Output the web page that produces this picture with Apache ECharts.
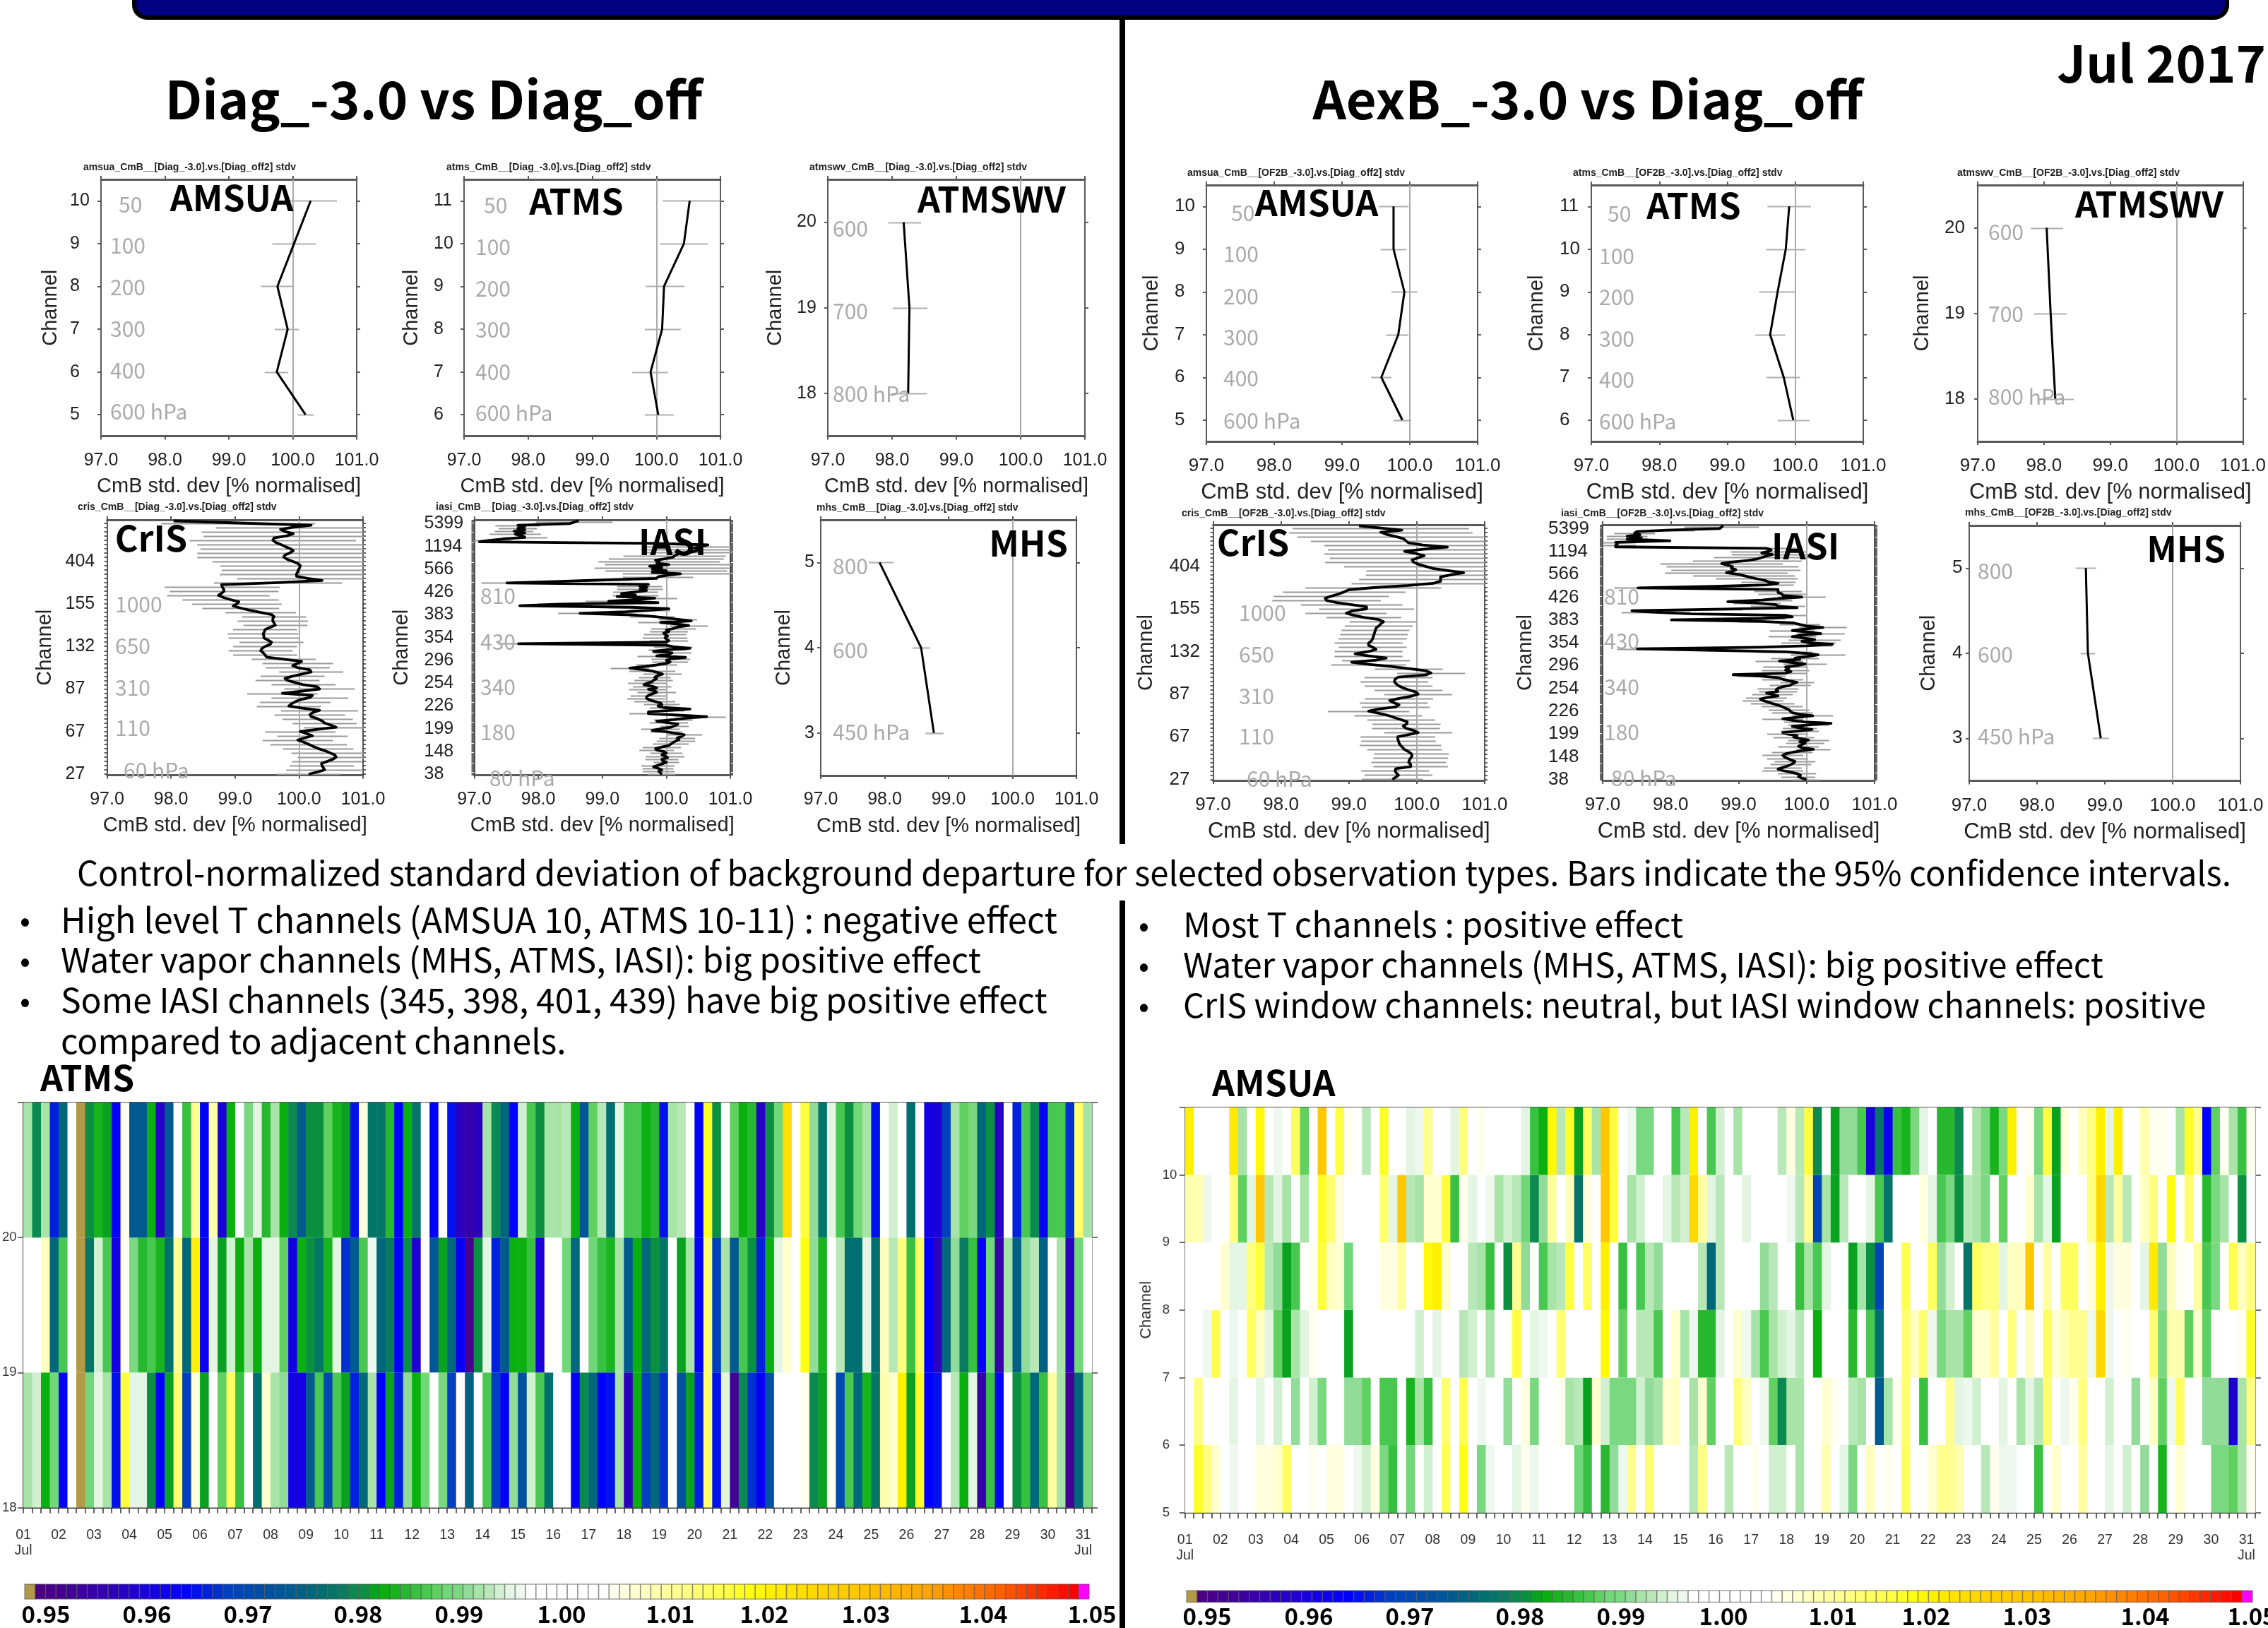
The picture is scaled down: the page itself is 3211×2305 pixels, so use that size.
<!DOCTYPE html>
<html><head><meta charset="utf-8">
<style>html,body{margin:0;padding:0;background:#fff}#c{width:3211px;height:2305px}</style>
<script src="https://cdn.jsdelivr.net/npm/echarts@6/dist/echarts.min.js"></script>
</head><body><div id="c"></div>
<script>
// ---------- profile panel data ----------
const xTicks = [97, 98, 99, 100, 101];
const chAmsua = ['5','6','7','8','9','10'];
const chAtms = ['6','7','8','9','10','11'];
const chWv = ['18','19','20'];
const chMhs = ['3','4','5'];
const crisLabels = ['27','67','87','132','155','404'];
const iasiLabels = ['38','148','199','226','254','296','354','383','426','566','1194','5399'];

const amsuaL = [100.20,99.75,99.92,99.76,100.02,100.28];
const amsuaLlo = [100.08,99.56,99.72,99.50,99.68,99.88];
const amsuaLhi = [100.33,99.93,100.10,100.02,100.36,100.69];
const atmsL = [100.03,99.91,100.09,100.12,100.43,100.52];
const atmsLlo = [99.82,99.62,99.82,99.83,100.06,100.10];
const atmsLhi = [100.27,100.18,100.38,100.44,100.81,101.03];
const wvL = [98.25,98.27,98.18];
const wvLlo = [97.99,98.01,97.94];
const wvLhi = [98.54,98.55,98.45];
const mhsL = [98.77,98.57,97.92];
const mhsLlo = [98.64,98.44,97.75];
const mhsLhi = [98.92,98.71,98.14];
const amsuaR = [99.89,99.58,99.83,99.92,99.76,99.76];
const amsuaRlo = [99.76,99.43,99.65,99.73,99.57,99.54];
const amsuaRhi = [100.02,99.73,99.98,100.11,99.95,99.98];
const atmsR = [99.97,99.83,99.63,99.74,99.86,99.91];
const atmsRlo = [99.74,99.58,99.41,99.47,99.57,99.59];
const atmsRhi = [100.21,100.07,99.85,100.01,100.15,100.23];
const wvR = [98.17,98.10,98.04];
const wvRlo = [97.92,97.85,97.80];
const wvRhi = [98.45,98.34,98.29];
const mhsR = [98.94,98.75,98.72];
const mhsRlo = [98.82,98.64,98.57];
const mhsRhi = [99.06,98.86,98.87];

const crisL = [100.15,100.29,100.40,100.38,100.36,100.35,100.44,100.53,100.58,100.56,
100.48,100.40,100.30,100.22,100.15,100.07,99.98,100.09,100.21,100.12,
100.02,100.29,100.58,100.50,100.40,100.36,100.29,100.19,100.17,100.22,
100.32,100.05,99.84,99.88,99.94,100.02,100.17,100.21,99.74,100.05,
100.32,100.29,100.07,99.94,99.82,99.78,99.90,100.05,100.19,100.17,
99.98,99.90,99.98,100.04,99.76,99.49,99.47,99.44,99.40,99.42,
99.47,99.55,99.57,99.51,99.45,99.45,99.44,99.46,99.47,99.55,
99.63,99.61,99.59,99.59,99.61,99.57,99.40,99.24,99.09,98.97,
99.03,99.06,98.93,98.82,98.74,98.79,98.83,98.82,98.80,98.79,
99.67,100.36,100.13,99.96,99.96,99.98,99.99,100.01,100.02,99.98,
99.90,99.81,99.76,99.78,99.86,99.91,99.86,99.78,99.71,99.63,
99.59,99.61,99.81,99.91,99.78,99.71,99.90,100.19,99.05,98.04];
const crisLci = [.5,.5,.6,.55,.5,.45,.55,.6,.6,.55,
.6,.5,.55,.6,.6,.5,.55,.55,.55,.6,
.55,.5,.5,.55,.5,.55,.55,.6,.55,.5,
.6,.55,.5,.6,.55,.55,.6,.55,.55,.5,
.55,.55,.5,.55,.5,.55,.5,.5,.5,.45,
.5,.5,.55,.45,.5,.5,.5,.45,.5,.5,
.5,.55,.5,.5,.55,.5,.55,.5,.5,.45,
.5,.5,.55,.5,.5,.5,.55,.5,.6,.65,
.7,.7,.75,.75,.8,.8,.85,.9,.9,.95,
1.0,1.05,1.1,1.2,1.2,1.25,1.2,1.2,1.25,1.2,
1.25,1.3,1.35,1.4,1.45,1.45,1.4,1.35,1.3,1.3,
1.3,1.35,1.3,1.25,1.3,1.3,1.2,1.2,1.2,1.3];

const crisR = [99.64,99.69,99.73,99.70,99.68,99.69,99.91,99.91,99.88,99.89,
99.91,99.93,99.92,99.88,99.82,99.79,99.76,99.74,99.73,99.72,
99.72,99.88,100.02,99.95,99.84,99.80,99.85,99.86,99.77,99.67,
99.58,99.44,99.29,99.44,99.69,99.74,99.66,99.60,99.74,99.91,
100.02,99.99,99.88,99.79,99.73,99.69,99.67,99.68,99.73,100.13,
100.21,100.13,99.88,99.62,99.29,99.04,99.40,99.55,99.29,99.09,
99.29,99.40,99.35,99.29,99.29,99.33,99.35,99.36,99.37,99.38,
99.39,99.40,99.44,99.47,99.51,99.44,99.22,99.07,98.96,99.04,
99.26,99.26,99.04,98.82,98.67,98.65,98.74,98.85,98.93,99.00,
99.36,99.88,100.24,100.35,100.35,100.35,100.50,100.69,100.46,100.24,
100.13,100.02,99.95,99.93,100.02,100.11,99.99,99.82,100.09,100.45,
100.09,99.88,99.84,99.80,99.69,99.55,99.47,99.78,99.47,99.15];
const crisRci = [.45,.5,.5,.55,.5,.5,.55,.55,.55,.6,
.55,.6,.55,.6,.55,.55,.6,.6,.55,.6,
.55,.5,.5,.5,.5,.55,.5,.5,.5,.5,
.5,.5,.6,.55,.5,.5,.5,.45,.5,.5,
.5,.5,.5,.5,.5,.5,.5,.5,.5,.5,
.5,.55,.5,.5,.55,.5,.5,.5,.5,.5,
.5,.5,.5,.5,.5,.55,.5,.5,.5,.5,
.5,.55,.5,.5,.5,.5,.55,.6,.6,.65,
.7,.7,.75,.75,.8,.85,.85,.85,.9,.9,
1.0,1.1,1.2,1.2,1.2,1.25,1.25,1.25,1.2,1.2,
1.2,1.25,1.3,1.3,1.3,1.3,1.35,1.35,1.4,1.4,
1.45,1.4,1.4,1.4,1.45,1.4,1.35,1.3,1.3,1.3];

const iasiL = [99.93,99.91,99.88,99.93,99.87,99.80,99.87,99.94,100.0,99.94,
99.93,100.02,99.98,99.93,100.0,99.96,99.85,99.83,99.93,100.04,
100.07,100.11,100.15,100.20,100.17,100.24,100.28,100.15,100.0,99.78,
99.91,100.07,100.13,100.18,100.04,99.85,100.11,100.30,100.63,100.18,
99.72,99.72,100,100.37,99.96,99.87,99.93,99.91,99.82,99.74,
99.69,99.69,99.72,99.78,99.85,99.82,99.72,99.85,99.78,99.65,
99.70,99.78,99.80,99.85,99.82,99.87,99.94,99.87,99.78,99.61,
99.43,99.67,99.85,100,100.06,100,100.07,100.30,99.85,100.04,
100.09,99.80,100.02,100.37,100.11,100,97.69,100,100.04,100,
99.98,100.02,99.98,99.96,100.04,100,100.11,100.18,100.35,100.15,
99.91,100.39,100.18,100,99.78,99.45,98.65,99.37,99.74,100.04,
99.45,97.71,98.34,99.87,99.10,99.59,99.82,99.23,99.52,99.30,
99.52,99.69,99.59,99.70,99.58,99.72,97.51,98.34,99.08,99.85,
99.87,100,100.22,99.78,100,99.78,99.93,99.74,100.04,99.85,
99.89,99.83,100,100.11,100.13,100.18,100.37,100.46,100.52,100.44,
100.55,100.65,99.82,97.08,97.23,97.49,97.79,97.75,97.64,97.79,
97.62,97.79,97.68,97.79,97.68,98.49,98.56,98.63];
const iasiLci = [.22,.2,.25,.28,.24,.3,.26,.22,.2,.3,
.26,.22,.3,.28,.25,.3,.27,.24,.3,.26,
.28,.3,.3,.32,.28,.3,.28,.3,.25,.3,
.3,.3,.22,.32,.3,.28,.3,.27,.3,.3,
.3,.25,.28,.25,.22,.3,.28,.3,.32,.3,
.3,.32,.28,.35,.3,.3,.3,.32,.3,.28,
.3,.32,.3,.3,.25,.28,.3,.36,.36,.3,
.3,.3,.32,.3,.28,.3,.3,.35,.3,.28,
.3,.3,.3,.3,.3,.35,.32,.3,.3,.32,
.35,.3,.33,.3,.3,.32,.35,.32,.3,.35,
.35,.3,.3,.32,.35,.36,.34,.33,.32,.3,
.35,.4,.35,.3,.36,.4,.35,.38,.36,.35,
.35,.4,.36,.4,.35,.38,.4,.35,.35,.4,
.55,.65,.9,1.0,.95,1.0,1.05,1.0,1.0,1.05,
.95,1.0,.9,.85,.8,.75,.75,.8,.9,1.0,
.9,.8,.35,.3,.35,.3,.35,.3,.4,.35,
.3,.35,.3,.4,.35,.45,.6,.55];

const iasiR = [100,99.93,99.88,99.91,99.86,99.76,99.65,99.58,99.65,99.72,
99.77,99.81,99.83,99.77,99.72,99.67,99.65,99.69,99.79,99.93,
100.10,99.93,99.88,99.93,99.98,99.90,100.03,99.90,99.81,99.86,
99.72,99.65,99.90,100.08,99.90,99.79,100.03,100.36,99.97,99.79,
99.65,99.86,100.09,99.90,99.79,99.76,99.74,99.69,99.64,99.58,
99.50,99.43,99.36,99.32,99.41,99.58,99.50,99.41,99.58,99.55,
99.58,99.64,99.76,99.79,99.86,99.74,99.65,99.58,99.34,98.92,
99.69,99.77,99.69,99.74,99.69,99.86,99.98,99.79,99.60,99.90,
99.83,100.03,100.17,100,99.69,98.65,97.51,99.34,100,100.38,
100.03,99.93,100.12,99.97,99.79,99.93,100.21,100.03,99.79,99.97,
100.24,100,99.90,99.81,99.34,98.01,99.34,99.79,99.69,98.30,
97.78,97.43,98.65,99.86,99.58,99.55,99.27,98.84,99.34,99.58,
99.93,99.65,99.64,99.58,99.58,99.58,97.52,98.65,99.41,99.58,
99.44,99.38,99.27,99.17,99.08,98.99,98.82,98.91,98.96,98.89,
98.91,98.84,98.75,98.89,99.13,99.27,99.34,99.41,99.50,99.34,
99.44,99.48,99.41,97.19,97.19,97.22,97.19,97.99,97.36,97.57,
97.36,97.55,97.47,97.50,97.95,98.72,98.75,98.77];
const iasiRci = [.2,.22,.25,.25,.28,.24,.3,.3,.28,.26,
.3,.28,.3,.26,.3,.28,.3,.27,.3,.28,
.25,.28,.3,.3,.28,.32,.3,.27,.3,.28,
.3,.3,.28,.3,.25,.3,.3,.25,.3,.3,
.3,.32,.3,.28,.3,.32,.3,.35,.3,.3,
.32,.35,.3,.33,.3,.32,.3,.32,.28,.3,
.3,.3,.3,.3,.25,.28,.3,.32,.35,.37,
.32,.33,.35,.35,.33,.35,.32,.33,.35,.4,
.35,.37,.4,.38,.4,.35,.3,.35,.38,.4,
.4,.35,.38,.35,.35,.38,.35,.35,.33,.3,
.35,.3,.3,.3,.35,.4,.35,.3,.3,.35,
.5,.45,.4,.35,.4,.3,.35,.4,.45,.4,
.35,.4,.35,.4,.35,.35,.35,.4,.4,.4,
.4,.45,.6,.65,.75,.85,.9,.95,.95,.97,
.97,.95,.9,.85,.8,.75,.7,.65,.6,.55,
.55,.5,.5,.3,.3,.35,.3,.35,.3,.35,
.3,.35,.3,.35,.4,.55,.55,.6];

// ---------- heatmap data (ratio to control, one value per 6-hourly cycle) ----------
const dayLabels = ['01','02','03','04','05','06','07','08','09','10','11','12','13','14','15','16','17','18','19','20','21','22','23','24','25','26','27','28','29','30','31'];
const atmsHeat20 = [.992,.980,.992,.966,.976,1,.949,.981,.984,.982,
.964,1.005,.974,.974,.983,.958,.974,1,.986,1.011,
.964,1.009,.960,.983,1,.990,.995,.985,.992,.983,
.980,.974,.981,.981,.988,.984,.982,.965,1.006,.978,
.978,.985,.964,.983,.978,1,.964,1,.965,.957,
.955,.957,.992,.980,.976,.964,.994,.987,.981,.992,
.992,.993,.983,.973,.988,.993,.977,.995,.987,.987,
.983,.985,.965,.992,.993,1,.964,1.017,.981,1,
.988,.983,.985,.958,.981,.989,1.023,1,1.016,.991,
.978,.995,.987,.981,.989,.992,.965,1,.994,1,
.977,1,.961,.960,.968,.992,.988,.990,.976,.981,
.958,1,.966,.987,.980,.963,.987,.987,.967,1.013,.992];
const atmsHeat19 = [1,1,1.008,.976,.987,1,.949,.978,.994,.987,
.961,1.005,.990,.985,.987,.984,.977,1.011,.976,1.020,
.962,.995,.982,.994,.983,.992,.983,.995,.995,.988,
.961,.983,.981,.978,.984,.995,.967,.974,.987,.996,
.976,.979,.964,.981,.959,1,.973,.982,.976,.963,
.951,.981,.995,.966,.974,.983,.983,.986,.960,1,
1,.989,.976,1,.989,.986,.984,.992,.974,.983,
.976,.981,.978,1,.982,.992,.964,1.013,.968,.992,
.974,.987,.981,.966,.983,.995,1.007,1,1.018,.991,
.984,1,.993,.977,.977,.995,.977,1.008,.993,1.012,
.986,1.014,.964,.957,.976,.991,.979,.986,.963,.989,
.955,.992,.975,.991,.993,.975,1,.992,.957,.989,1];
const atmsHeat18 = [.992,.994,.983,.989,.964,1,.949,.989,.995,.992,
.965,1.016,.995,.995,.981,.964,.982,1.013,.968,1.006,
.982,1,.988,1.014,.986,1,.977,1.007,.992,.991,
.961,.961,.974,.987,.970,.987,.982,.966,.976,.992,
.964,.982,.966,.991,.983,.989,1,.990,.968,1,
.975,1,.987,.968,.963,.991,.972,.994,.987,.977,
1,1,.963,.980,.976,.964,.965,.992,.957,.983,
.968,.976,.967,1,.972,.982,.966,1.013,.965,.995,
.953,.980,.967,.963,.972,1,1,1,1.005,.980,
.982,1.005,.970,.987,.976,.984,.978,1.009,1.007,1.020,
.982,1.017,.964,.965,1,.993,.983,.995,.955,.986,
.964,1,.981,.986,.976,.986,1.010,.992,.952,.976,.990];

// AMSUA rows: [cycle index, value]; every cycle not listed reads as white (1.000)
const amsuaHeat10 = [[0,1.020],[5,1.021],[6,.992],[8,1.019],[10,.996],[12,1.014],[13,.988],[15,1.028],[17,1.016],[18,1.005],[20,.993],[22,1.017],[25,.995],[26,.996],[27,1.011],[30,.995],[31,1.012],[33,1.005],[38,.995],[39,.986],[40,.983],[41,1.019],[42,.993],[43,1.017],[44,.982],[45,1.014],[46,.992],[47,1.028],[48,1.016],[50,.996],[51,.990],[52,.990],[55,.987],[56,.993],[57,1.020],[59,.987],[60,.994],[62,.992],[67,.993],[68,1.006],[69,.993],[70,1.016],[71,.980],[73,.982],[74,.991],[75,.991],[76,.987],[77,.960],[78,.978],[79,.962],[80,.986],[81,.984],[82,.990],[83,.995],[85,.985],[86,.985],[87,.980],[89,.992],[90,.990],[91,.984],[92,.990],[93,1.020],[95,1.005],[96,.990],[97,1.016],[98,.982],[99,1.006],[101,1.008],[102,1.012],[103,1.020],[104,.995],[105,1.020],[108,1.009],[109,1.005],[110,1.005],[112,.992],[113,1.017],[114,1.011],[115,.964],[116,.988],[117,1.005],[118,.992],[119,.986],[120,1.005]];
const amsuaHeat9 = [[0,1.009],[1,1.009],[2,.996],[5,1.012],[6,.988],[7,.995],[8,1.028],[9,.993],[10,.995],[11,.992],[13,.992],[15,1.017],[16,1.013],[17,1.006],[22,1.013],[23,.995],[24,1.028],[25,.993],[26,.992],[27,1.007],[28,1.007],[29,1.016],[30,.986],[31,1.005],[32,.995],[34,.996],[35,.992],[36,.994],[37,.993],[38,.989],[39,.980],[40,.991],[41,1.010],[43,1.008],[44,.978],[45,1.006],[47,1.028],[48,1.016],[50,.992],[51,.994],[54,.995],[55,.993],[56,.994],[57,1.024],[58,1.010],[59,.995],[60,.993],[63,.995],[68,.996],[69,.993],[70,1.011],[71,.969],[72,.992],[73,.982],[74,.993],[77,.995],[78,.987],[79,.978],[83,1.006],[84,.995],[85,.987],[86,.990],[87,.981],[88,.993],[89,.992],[90,.990],[92,.988],[95,1.007],[96,.992],[97,.995],[98,.982],[102,1.012],[103,1.024],[104,.993],[105,1.010],[106,.993],[108,1.008],[109,1.012],[111,1.018],[113,1.013],[115,.985],[116,.990],[117,.992],[119,.981]];
const amsuaHeat8 = [[4,1.007],[5,.995],[6,.995],[7,1.012],[8,1.016],[9,.993],[10,.991],[11,.982],[12,.987],[14,1.005],[15,1.016],[16,1.008],[17,1.007],[18,.989],[22,1.006],[23,1.006],[24,1.010],[27,1.019],[28,1.020],[29,1.007],[32,.993],[33,.992],[34,.986],[36,.981],[37,1.011],[38,.991],[40,.987],[41,.992],[42,.993],[43,1.016],[45,1.014],[47,1.020],[49,.986],[51,.987],[52,.993],[53,.991],[58,.993],[59,.976],[60,.993],[65,.991],[66,.993],[69,.986],[70,.992],[71,.987],[72,.995],[75,.982],[76,.992],[77,.981],[78,.969],[81,1.015],[84,1.014],[85,.991],[86,.994],[88,.978],[89,1.014],[90,1.012],[91,1.012],[92,.995],[93,1.008],[94,1.008],[95,1.028],[97,1.010],[99,1.014],[100,1.014],[102,1.006],[103,1.020],[104,.996],[105,1.006],[106,1.006],[108,.995],[109,1.021],[110,.991],[111,1.008],[112,1.005],[114,1.010],[115,.987],[116,.990],[118,1.015],[119,1.008],[120,1.012]];
const amsuaHeat7 = [[2,.996],[3,1.015],[5,.996],[7,1.014],[8,1.008],[9,.995],[10,.988],[11,.982],[12,.992],[13,.995],[14,1.005],[18,.982],[26,.994],[28,.995],[31,.993],[32,.994],[34,.992],[37,1.016],[39,.995],[40,.996],[42,1.013],[47,1.019],[49,.988],[51,.993],[52,.993],[53,.987],[55,1.007],[56,.992],[57,.996],[58,.985],[59,.985],[60,.995],[62,1.007],[63,.996],[64,.992],[65,.987],[66,.992],[67,.994],[68,.995],[69,.993],[71,.983],[75,.985],[77,.987],[78,.977],[81,1.013],[82,1.008],[83,1.013],[84,.996],[85,.990],[86,.992],[87,.992],[88,.988],[89,1.007],[90,1.007],[91,1.010],[93,1.012],[95,1.008],[97,1.014],[98,1.007],[99,1.009],[100,1.011],[101,1.011],[102,.996],[103,1.024],[104,.996],[106,1.005],[109,1.013],[110,.990],[111,1.009],[112,1.009],[113,.988],[114,1.007],[115,.988],[119,1.005],[120,1.017]];
const amsuaHeat6 = [[1,1.012],[5,.995],[8,.995],[10,.994],[12,.991],[14,.994],[15,.990],[18,.991],[19,.991],[20,.988],[22,.987],[23,.987],[25,.984],[26,.992],[27,.986],[29,1.013],[31,1.015],[33,.996],[36,.991],[38,1.006],[39,.990],[42,1.005],[43,.992],[44,.993],[45,.982],[46,1.007],[47,.994],[48,.990],[49,.990],[50,.990],[51,.994],[52,.991],[53,.992],[54,1.007],[55,1.008],[57,.992],[58,1.007],[59,.988],[62,1.012],[63,1.008],[65,.996],[66,.988],[67,.980],[68,.992],[69,.992],[72,1.007],[73,1.005],[75,.993],[76,.992],[78,.974],[79,.992],[80,1.005],[81,1.013],[83,.986],[86,1.011],[87,.995],[88,.996],[89,.994],[92,.995],[94,.992],[95,.995],[96,.993],[97,1.013],[99,.996],[100,1.005],[101,1.012],[104,.994],[107,.991],[109,1.008],[110,.988],[111,.996],[112,1.014],[115,.991],[116,.991],[117,.991],[118,.959],[119,.992],[120,1.012]];
const amsuaHeat5 = [[1,1.017],[2,1.012],[3,1.007],[5,.996],[8,1.006],[9,1.006],[10,1.007],[11,1.014],[14,1.005],[16,1.006],[17,1.006],[19,.996],[20,.994],[21,1.006],[22,.990],[23,.986],[25,.989],[27,.994],[29,1.015],[31,1.018],[33,.990],[34,.996],[37,.995],[38,1.005],[39,.996],[44,.989],[45,.986],[47,.985],[48,.991],[49,.996],[50,1.011],[52,1.013],[57,.993],[58,1.012],[61,.993],[64,1.005],[66,.994],[67,.994],[69,.992],[72,1.009],[74,.995],[75,.990],[77,1.008],[79,1.005],[81,1.014],[84,1.007],[85,1.011],[86,1.011],[87,1.009],[90,.993],[91,1.005],[92,.996],[93,.996],[96,.986],[98,1.007],[101,1.010],[104,.995],[106,.994],[108,.991],[110,.984],[112,1.007],[116,.990],[117,.990],[118,.988],[119,.992],[120,1.005]];

// ---------- colour scale ----------
const scaleAnchors = [[0,'#b39a47'],[1,'#4b0082'],[6,'#3800a8'],[10,'#2000d0'],[15,'#0000ff'],[19,'#0040c0'],[25,'#005a90'],[28,'#006f6f'],[30,'#0a7a60'],[31,'#0a8a50'],[32,'#0a9040'],[33,'#0aa020'],[34,'#0ab010'],[35,'#18b420'],[36,'#28b830'],[37,'#38c040'],[38,'#48c850'],[39,'#60d060'],[40,'#70d878'],[41,'#7ad880'],[42,'#90dc98'],[43,'#a8e4a8'],[44,'#b8e8b8'],[45,'#d0f0d0'],[46,'#e4f5e4'],[47,'#eef8ee'],[48,'#ffffff'],[55,'#ffffff'],[56,'#fffff0'],[57,'#ffffe0'],[59,'#ffffc0'],[61,'#ffffa0'],[63,'#ffff80'],[65,'#ffff60'],[67,'#ffff40'],[69,'#ffff10'],[71,'#fff000'],[75,'#ffd800'],[79,'#ffc800'],[86,'#ffa500'],[93,'#ff6000'],[100,'#ff0000'],[101,'#ff00ff']];
const colorBarTicks = ['0.95','0.96','0.97','0.98','0.99','1.00','1.01','1.02','1.03','1.04','1.05'];

function hex(c){return [1,3,5].map(i=>parseInt(c.substr(i,2),16));}
const swatches=[];
for(let a=0;a<scaleAnchors.length-1;a++){
  const [k0,c0]=scaleAnchors[a],[k1,c1]=scaleAnchors[a+1],p=hex(c0),q=hex(c1);
  for(let k=k0;k<k1;k++){const t=(k-k0)/(k1-k0);swatches[k]='rgb('+p.map((v,j)=>Math.round(v+(q[j]-v)*t)).join(',')+')';}
}
swatches[101]='#ff00ff';
const colorOf=v=>swatches[Math.max(0,Math.min(101,Math.round((v-.95)*1000)+1))];

// ---------- layout ----------
const grids=[],xAxes=[],yAxes=[],series=[],graphics=[];
const SANS='"Liberation Sans",Arial,sans-serif', KR='"Noto Sans CJK KR","Noto Sans",sans-serif';
function text(x,y,t,size,o={}){graphics.push({type:'text',x,y,z:o.z||50,silent:true,style:{text:t,font:`${o.weight||'normal'} ${size}px ${o.family||KR}`,fill:o.color||'#000',textAlign:o.align||'left',textVerticalAlign:'middle'}});}

const AX='#5a5a5a';
function panel(p){
  const gi=grids.length;
  const big=p.x0>1600;
  grids.push({left:p.x0,top:p.y0,width:p.x1-p.x0,height:p.y1-p.y0,containLabel:false});
  const xBase={gridIndex:gi,type:'value',min:97,max:101,interval:1,splitLine:{show:false},axisLine:{show:true,onZero:false,lineStyle:{color:AX,width:3}},axisTick:{show:true,length:5,lineStyle:{color:AX,width:2}}};
  const xi=xAxes.length;
  xAxes.push({...xBase,position:'bottom',name:'CmB std. dev [% normalised]',nameLocation:'middle',nameGap:57,nameMoveOverlap:false,nameTextStyle:{fontFamily:SANS,fontSize:big?31:29,color:'#222'},
    axisLabel:{show:true,margin:22,fontFamily:SANS,fontSize:big?26:25,color:'#222',formatter:v=>v.toFixed(1)}});
  xAxes.push({...xBase,position:'top',axisLabel:{show:false}});
  const tickEvery=p.everyTick||1;
  const yBase={gridIndex:gi,type:'category',data:p.cats,boundaryGap:true,splitLine:{show:false},axisLine:{show:true,onZero:false,lineStyle:{color:AX,width:2}},axisTick:{show:true,alignWithLabel:true,interval:i=>i%tickEvery===0,length:p.dense?4:5,lineStyle:{color:p.dense?'#333':AX,width:p.dense?1.5:2}}};
  const yi=yAxes.length;
  yAxes.push({...yBase,position:'left',name:'Channel',nameLocation:'middle',nameGap:p.gapY,nameRotate:90,nameMoveOverlap:false,nameTextStyle:{fontFamily:SANS,fontSize:29,color:'#222'},
    axisLabel:{show:true,interval:0,align:'left',margin:p.marginY,fontFamily:SANS,fontSize:big?26:25,color:'#222'}});
  yAxes.push({...yBase,position:'right',axisLabel:{show:false}});
  const bars=p.vals.map((v,i)=>[p.lo[i],p.hi[i],i]).filter(b=>!p.dense||b[2]%2===0);
  series.push({type:'custom',xAxisIndex:xi,yAxisIndex:yi,clip:true,silent:true,z:2,animation:false,
    data:bars,encode:{x:[0,1],y:2},
    renderItem(_,api){const a=api.coord([api.value(0),api.value(2)]),b=api.coord([api.value(1),api.value(2)]);
      const y=Math.round(a[1])+.5;
      return {type:'line',shape:{x1:a[0],y1:y,x2:b[0],y2:y},style:{stroke:p.dense?'#9a9a9a':'#b0b0b0',lineWidth:p.dense?1.8:2.2}};}});
  series.push({type:'line',xAxisIndex:xi,yAxisIndex:yi,showSymbol:false,symbol:'none',z:5,silent:true,animation:false,clip:true,
    data:p.vals.map((v,i)=>[v,i]),lineStyle:{color:'#000',width:p.dense?3.8:3,join:'round'},
    markLine:{silent:true,symbol:'none',animation:false,label:{show:false},lineStyle:{color:'#aaa',type:'solid',width:2},data:[{xAxis:100}]}});
  text(p.titleX,p.titleY,p.title,14,{family:SANS,weight:'bold',color:'#222'});
}
const ci=(vals,hw)=>({lo:vals.map((v,i)=>v-hw[i]),hi:vals.map((v,i)=>v+hw[i])});
const sparseCats=(labels,step,n)=>{const c=new Array(n).fill('');labels.forEach((l,i)=>c[i*step]=l);return c;};

const TL='[Diag_-3.0].vs.[Diag_off2] stdv', TR='[OF2B_-3.0].vs.[Diag_off2] stdv';
panel({x0:143,x1:505,y0:254,y1:617.5,cats:chAmsua,vals:amsuaL,lo:amsuaLlo,hi:amsuaLhi,gapY:57,marginY:44,title:'amsua_CmB__'+TL,titleX:118,titleY:237});
panel({x0:657,x1:1020,y0:254,y1:617.5,cats:chAtms,vals:atmsL,lo:atmsLlo,hi:atmsLhi,gapY:60,marginY:43,title:'atms_CmB__'+TL,titleX:632,titleY:237});
panel({x0:1172,x1:1536,y0:254,y1:617.5,cats:chWv,vals:wvL,lo:wvLlo,hi:wvLhi,gapY:60,marginY:44,title:'atmswv_CmB__'+TL,titleX:1146,titleY:237});
panel({x0:151.5,x1:514,y0:736,y1:1097.5,dense:true,everyTick:2,cats:sparseCats(crisLabels,20,crisL.length),vals:crisL,...ci(crisL,crisLci),gapY:73,marginY:59,title:'cris_CmB__'+TL,titleX:110,titleY:718});
panel({x0:671.5,x1:1034,y0:736,y1:1097.5,dense:true,cats:sparseCats(iasiLabels,15,iasiL.length),vals:iasiL,...ci(iasiL,iasiLci),gapY:88,marginY:71,title:'iasi_CmB__'+TL,titleX:617,titleY:718});
panel({x0:1162,x1:1524,y0:736,y1:1098,cats:chMhs,vals:mhsL,lo:mhsLlo,hi:mhsLhi,gapY:38,marginY:23,title:'mhs_CmB__'+TL,titleX:1156,titleY:719});
panel({x0:1708,x1:2092,y0:262,y1:625,cats:chAmsua,vals:amsuaR,lo:amsuaRlo,hi:amsuaRhi,gapY:63,marginY:45,title:'amsua_CmB__'+TR,titleX:1681,titleY:245});
panel({x0:2253,x1:2638,y0:262,y1:625,cats:chAtms,vals:atmsR,lo:atmsRlo,hi:atmsRhi,gapY:63,marginY:45,title:'atms_CmB__'+TR,titleX:2227,titleY:245});
panel({x0:2800,x1:3184,y0:262,y1:625,cats:chWv,vals:wvR,lo:wvRlo,hi:wvRhi,gapY:64,marginY:47,title:'atmswv_CmB__'+TR,titleX:2771,titleY:245});
panel({x0:1717.5,x1:2102,y0:743,y1:1105,dense:true,everyTick:2,cats:sparseCats(crisLabels,20,crisR.length),vals:crisR,...ci(crisR,crisRci),gapY:80,marginY:62,title:'cris_CmB__'+TR,titleX:1673,titleY:727});
panel({x0:2269,x1:2654,y0:743,y1:1105,dense:true,cats:sparseCats(iasiLabels,15,iasiR.length),vals:iasiR,...ci(iasiR,iasiRci),gapY:95,marginY:77,title:'iasi_CmB__'+TR,titleX:2210,titleY:727});
panel({x0:2788,x1:3172,y0:744,y1:1105.5,cats:chMhs,vals:mhsR,lo:mhsRlo,hi:mhsRhi,gapY:43,marginY:24,title:'mhs_CmB__'+TR,titleX:2782,titleY:726});

// ---------- heatmaps ----------
function heatmap(h){
  const gi=grids.length;
  grids.push({left:h.x0,top:h.y0,width:h.x1-h.x0,height:h.y1-h.y0});
  const xi=xAxes.length,yi=yAxes.length;
  const base={gridIndex:gi,type:'value',splitLine:{show:false}};
  xAxes.push({...base,position:'bottom',min:0,max:121,interval:1,axisLine:{show:true,onZero:false,lineStyle:{color:'#444',width:2}},axisTick:{show:true,length:8,lineStyle:{color:'#333',width:1.5}},
    axisLabel:{show:true,interval:0,margin:28,fontFamily:SANS,fontSize:19.5,color:'#333',lineHeight:22,verticalAlign:'top',
      formatter:v=>{if(v%4)return'';const d=dayLabels[v/4];return (v===0||v===120)?d+'\nJul':d;}}});
  xAxes.push({...base,position:'top',min:0,max:121,interval:1,axisLine:{show:true,onZero:false,lineStyle:{color:'#555',width:2}},axisTick:{show:false},axisLabel:{show:false}});
  yAxes.push({...base,position:'left',min:h.rows[0],max:h.rows[0]+h.data.length,interval:1,axisLine:{show:true,onZero:false,lineStyle:{color:'#444',width:2}},axisTick:{show:true,length:8,lineStyle:{color:'#444',width:1.5}},
    axisLabel:{show:true,align:'left',margin:h.marginY,fontFamily:SANS,fontSize:18.5,color:'#333',formatter:v=>v===h.rows[0]+h.data.length?'':String(v)},
    ...(h.yName?{name:h.yName,nameLocation:'middle',nameGap:44,nameRotate:90,nameMoveOverlap:false,nameTextStyle:{fontFamily:SANS,fontSize:22,color:'#333'}}:{})});
  yAxes.push({...base,position:'right',min:h.rows[0],max:h.rows[0]+h.data.length,interval:1,axisLine:{show:true,onZero:false,lineStyle:{color:'#444',width:2}},axisTick:{show:true,length:8,lineStyle:{color:'#444',width:1.5}},axisLabel:{show:false}});
  const cells=[];
  h.data.forEach((row,r)=>row.forEach((v,c)=>cells.push([c,h.rows[0]+r,v])));
  series.push({type:'custom',xAxisIndex:xi,yAxisIndex:yi,silent:true,animation:false,data:cells,encode:{x:0,y:1},
    renderItem(_,api){const a=api.coord([api.value(0),api.value(1)+1]),b=api.coord([api.value(0)+1,api.value(1)]);
      return {type:'rect',shape:{x:a[0],y:a[1],width:b[0]-a[0]+.5,height:b[1]-a[1]},style:{fill:colorOf(api.value(2))}};}});
}
const expand=s=>{const r=new Array(121).fill(1);s.forEach(([c,v])=>r[c]=v);return r;};
heatmap({x0:30.6,x1:1546,y0:1561,y1:2134.5,marginY:30,rows:[18],data:[atmsHeat18,atmsHeat19,atmsHeat20]});
heatmap({x0:1677.7,x1:3193,y0:1568,y1:2141.7,marginY:32,rows:[5],yName:'Channel',data:[amsuaHeat5,amsuaHeat6,amsuaHeat7,amsuaHeat8,amsuaHeat9,amsuaHeat10].map(expand)});

// ---------- colour bars ----------
function colorBar(x0,x1,y0,y1,labelX,labelY){
  const gi=grids.length;
  grids.push({left:x0,top:y0,width:x1-x0,height:y1-y0});
  const xi=xAxes.length,yi=yAxes.length;
  xAxes.push({gridIndex:gi,type:'value',min:0,max:102,show:false});
  yAxes.push({gridIndex:gi,type:'value',min:0,max:1,show:false});
  series.push({type:'custom',xAxisIndex:xi,yAxisIndex:yi,silent:true,animation:false,data:swatches.map((c,k)=>[k]),encode:{x:0},
    renderItem(_,api){const k=api.value(0),a=api.coord([k,1]),b=api.coord([k+1,0]);
      return {type:'rect',shape:{x:a[0],y:a[1],width:b[0]-a[0],height:b[1]-a[1]},style:{fill:swatches[k],stroke:'rgba(90,90,90,.55)',lineWidth:1.5}};}});
  colorBarTicks.forEach((t,i)=>text(labelX[i],labelY,t,33,{weight:'bold',align:'center'}));
}
colorBar(35,1542,2243,2264,[65,208,351,507,650,795,949,1082,1226,1392,1546],2285);
colorBar(1680,3189,2252,2268.5,[1709,1853,1996,2152,2295,2440,2595,2727,2870,3037,3188],2288);

// ---------- pressure levels ----------
const GR='#aaaaaa', PS=30;
function levels(x,items){items.forEach(([t,y,dx])=>text(x+(dx||0),y,t,PS,{color:GR}));}
levels(156,[['50',290,12],['100',348],['200',407],['300',466],['400',525],['600 hPa',583]]);
levels(673,[['50',291,12],['100',350],['200',409],['300',467],['400',527],['600 hPa',585]]);
levels(1179,[['600',324],['700',441],['800 hPa',558]]);
levels(163,[['1000',856],['650',915],['310',974],['110',1031],['60 hPa',1091,12]]);
levels(680,[['810',844],['430',909],['340',973],['180',1037],['80 hPa',1102,13]]);
levels(1179,[['800',802],['600',921],['450 hPa',1037]]);
levels(1732,[['50',302,11],['100',360],['200',420],['300',478],['400',536],['600 hPa',596]]);
levels(2264,[['50',303,12],['100',363],['200',421],['300',480],['400',538],['600 hPa',597]]);
levels(2815,[['600',329],['700',445],['800 hPa',562]]);
levels(1754,[['1000',868],['650',927],['310',986],['110',1043],['60 hPa',1103,11]]);
levels(2271,[['810',845],['430',908],['340',973],['180',1037],['80 hPa',1102,10]]);
levels(2800,[['800',809],['600',927],['450 hPa',1043]]);

// ---------- instrument names ----------
[['AMSUA',328,280],['ATMS',816,285],['ATMSWV',1404,282],['CrIS',214,762],['IASI',952,767],['MHS',1456,769],
 ['AMSUA',1864,287],['ATMS',2398,291],['ATMSWV',3043,289],['CrIS',1774,768],['IASI',2556,773],['MHS',3095,777]]
 .forEach(([t,x,y])=>text(x,y,t,50,{weight:'bold',align:'center',z:60}));

// ---------- page furniture ----------
graphics.push({type:'rect',z:40,silent:true,shape:{x:190,y:-20,width:2963,height:45,r:[0,0,18,18]},style:{fill:'#000080',stroke:'#000',lineWidth:6}});
graphics.push({type:'rect',z:40,silent:true,shape:{x:1585,y:24,width:8,height:1171},style:{fill:'#000'}});
graphics.push({type:'rect',z:40,silent:true,shape:{x:1585,y:1275,width:8,height:1030},style:{fill:'#000'}});
text(614,141,'Diag_-3.0 vs Diag_off',74,{weight:'bold',align:'center'});
text(2248,141,'AexB_-3.0 vs Diag_off',74,{weight:'bold',align:'center'});
text(3208,90,'Jul 2017',72,{weight:'bold',align:'right'});
text(109,1236,'Control-normalized standard deviation of background departure for selected observation types. Bars indicate the 95% confidence intervals.',47.2);
[['High level T channels (AMSUA 10, ATMS 10-11) : negative effect',1302,49],
 ['Water vapor channels (MHS, ATMS, IASI): big positive effect',1359,48],
 ['Some IASI channels (345, 398, 401, 439) have big positive effect',1416,48]]
 .forEach(([t,y,s])=>{text(28,y,'•',44);text(86,y,t,s);});
text(86,1474,'compared to adjacent channels.',48);
[['Most T channels : positive effect',1309,48],
 ['Water vapor channels (MHS, ATMS, IASI): big positive effect',1366,48],
 ['CrIS window channels: neutral, but IASI window channels: positive',1423,47]]
 .forEach(([t,y,s])=>{text(1612,y,'•',44);text(1675,y,t,s);});
text(57,1526,'ATMS',50,{weight:'bold'});
text(1716,1533,'AMSUA',50,{weight:'bold'});

echarts.init(document.getElementById('c'),null,{renderer:'canvas'}).setOption({
  animation:false,backgroundColor:'#fff',grid:grids,xAxis:xAxes,yAxis:yAxes,series,graphic:{elements:graphics}
});
</script></body></html>
